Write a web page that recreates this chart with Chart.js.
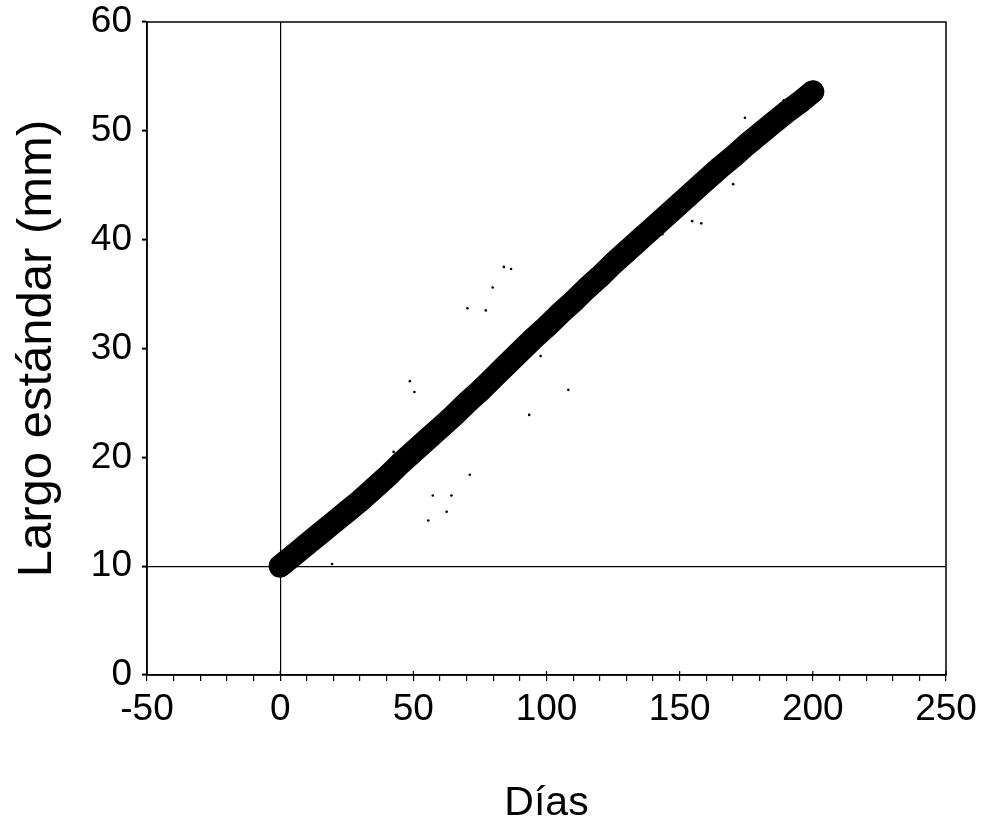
<!DOCTYPE html>
<html>
<head>
<meta charset="utf-8">
<script src="https://cdn.jsdelivr.net/npm/chart.js@4.4.1/dist/chart.umd.min.js"></script>
<style>
  html, body { margin: 0; padding: 0; background: #ffffff; }
  canvas { display: block; }
</style>
</head>
<body>
<canvas id="c" width="988" height="834"></canvas>
<script>
// Main growth series (days, standard length in mm)
const days = [0,5,10,15,20,25,30,35,40,45,50,55,60,65,70,75,80,85,90,95,100,105,110,115,120,125,130,135,140,145,150,155,160,165,170,175,180,185,190,195,200];
const lengths = [10.0,11.0,12.0,13.0,14.0,15.0,16.0,17.1,18.2,19.4,20.5,21.6,22.7,23.8,25.0,26.1,27.3,28.5,29.7,30.9,32.0,33.2,34.3,35.5,36.6,37.8,38.9,40.0,41.1,42.2,43.3,44.4,45.5,46.6,47.6,48.7,49.7,50.7,51.7,52.6,53.6];

// Scattered individual observations
const outlierDays = [84.0,86.7,79.8,70.3,77.2,97.8,48.7,50.4,108.2,93.5,42.6,40.0,34.0,71.2,57.3,64.3,62.5,55.6,189.1,174.5,170.1,154.7,158.1,143.5,19.5];
const outlierLengths = [37.5,37.3,35.6,33.7,33.5,29.3,27.0,26.0,26.2,23.9,20.5,19.0,17.8,18.4,16.5,16.5,15.0,14.2,52.8,51.2,45.1,41.7,41.5,40.5,10.2];

// Axis settings
const xTicksMin = -50, xTicksMax = 250, xMinorStep = 10, xLabelStep = 50;
const yTicksMin = 0, yTicksMax = 60, yStep = 10;
const xTitle = 'Días';
const yTitle = 'Largo estándar (mm)';

const mainPoints = days.map((d, i) => ({ x: d, y: lengths[i] }));
const outlierPoints = outlierDays.map((d, i) => ({ x: d, y: outlierLengths[i] }));

const FONT = 'Liberation Sans, Arial, Helvetica, sans-serif';

const frame = {
  id: 'frame',
  afterDraw(chart) {
    const { ctx, chartArea: a } = chart;
    ctx.save();
    ctx.strokeStyle = '#000';
    ctx.lineWidth = 1.5;
    ctx.strokeRect(a.left, a.top, a.right - a.left, a.bottom - a.top);
    const xs = chart.scales.x;
    ctx.lineWidth = 1.2;
    for (let v = xTicksMin; v <= xTicksMax; v += xLabelStep) {
      const px = xs.getPixelForValue(v);
      ctx.beginPath();
      ctx.moveTo(px, a.bottom);
      ctx.lineTo(px, a.bottom - 4);
      ctx.stroke();
    }
    ctx.restore();
  }
};

function zeroPad(scale) {
  scale.paddingTop = 0;
  scale.paddingBottom = 0;
  scale.paddingLeft = 0;
  scale.paddingRight = 0;
}

new Chart(document.getElementById('c'), {
  type: 'scatter',
  data: {
    datasets: [
      {
        data: mainPoints,
        showLine: true,
        borderColor: '#000',
        backgroundColor: '#000',
        borderWidth: 23,
        borderCapStyle: 'round',
        borderJoinStyle: 'round',
        pointRadius: 11,
        pointBorderWidth: 0,
        tension: 0
      },
      {
        data: outlierPoints,
        showLine: false,
        backgroundColor: '#000',
        borderColor: '#000',
        pointRadius: 1.3,
        pointBorderWidth: 0
      }
    ]
  },
  options: {
    responsive: false,
    animation: false,
    devicePixelRatio: 1,
    layout: { padding: { left: 0, top: 22, right: 42, bottom: 0 } },
    plugins: { legend: { display: false }, tooltip: { enabled: false } },
    scales: {
      x: {
        type: 'linear',
        min: xTicksMin,
        max: xTicksMax,
        afterFit(scale) { scale.height = 159; zeroPad(scale); },
        border: { display: true, color: '#000', width: 1.5 },
        grid: {
          drawOnChartArea: true,
          color: ctx => (ctx.tick && ctx.tick.value === 0) ? '#000' : 'rgba(0,0,0,0)',
          lineWidth: 1.2,
          tickColor: '#000',
          tickLength: 6,
          tickWidth: 1.2
        },
        ticks: {
          stepSize: xMinorStep,
          autoSkip: false,
          maxRotation: 0,
          padding: 7,
          color: '#000',
          font: { family: FONT, size: 37 },
          callback: v => (v % xLabelStep === 0 ? String(v) : '')
        },
        title: {
          display: true,
          text: xTitle,
          color: '#000',
          font: { family: FONT, size: 41 },
          padding: { top: 0, bottom: 6 }
        }
      },
      y: {
        type: 'linear',
        min: yTicksMin,
        max: yTicksMax,
        afterFit(scale) { scale.width = 147; zeroPad(scale); },
        border: { display: true, color: '#000', width: 1.5 },
        grid: {
          drawOnChartArea: true,
          color: ctx => (ctx.tick && ctx.tick.value === 10) ? '#000' : 'rgba(0,0,0,0)',
          lineWidth: 1.2,
          tickColor: '#000',
          tickLength: 5,
          tickWidth: 2
        },
        ticks: {
          stepSize: yStep,
          autoSkip: false,
          padding: 10,
          color: '#000',
          font: { family: FONT, size: 37 }
        },
        title: {
          display: true,
          text: yTitle,
          color: '#000',
          font: { family: FONT, size: 49 },
          padding: { top: 8, bottom: 0 }
        }
      }
    }
  },
  plugins: [frame]
});
</script>
</body>
</html>
